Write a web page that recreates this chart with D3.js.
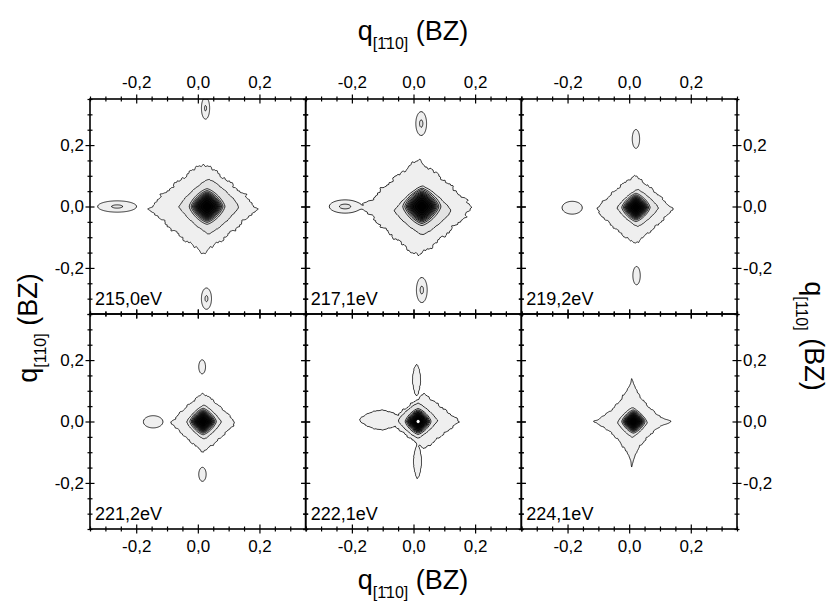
<!DOCTYPE html>
<html>
<head>
<meta charset="utf-8">
<script src="https://cdn.jsdelivr.net/npm/d3@7"></script>
<style>
  body { margin: 0; background: #fff; }
  svg { display: block; }
  text { font-family: "Liberation Sans", Arial, sans-serif; }
</style>
</head>
<body>
<svg id="chart" width="836" height="607"></svg>
<script>
// ---- data -------------------------------------------------------------
const energyLabels = ["215,0eV", "217,1eV", "219,2eV", "221,2eV", "222,1eV", "224,1eV"];
const qDomain = [-0.35, 0.35];
const majorTicks = [-0.2, 0, 0.2];
const majorTickLabels = ["-0,2", "0,0", "0,2"];
const minorTicks = [-0.35, -0.3, -0.25, -0.15, -0.1, -0.05, 0.05, 0.1, 0.15, 0.25, 0.3, 0.35];
const titleQx = ["q", "[1\u030410]", " (BZ)"];
const titleQy = ["q", "[110]", " (BZ)"];

// Intensity contour levels and their fills
const contourLevels = [1, 3, 5, 6.5, 8.5, 11, 14, 18, 23, 30, 40, 55, 75, 95];
const levelFills = ["#efefef", "#e3e3e3", "#cfcfcf", "#b4b4b4", "#979797", "#7a7a7a",
                    "#5c5c5c", "#404040", "#2a2a2a", "#1a1a1a", "#0e0e0e", "#050505", "#000000", "#ffffff"];

// Diffuse halo (outer level), union of shapes: [qx, qy, halfX, halfY, exponent]
const haloShapes = [
  [[0.018, -0.005, 0.173, 0.145, 1.1]],
  [[0.015, -0.005, 0.175, 0.155, 1.1]],
  [[0.017, -0.010, 0.123, 0.110, 1.1]],
  [[0.018, -0.003, 0.103, 0.095, 1.1]],
  [[0.035, 0.000, 0.115, 0.090, 1.0], [-0.105, 0.005, 0.070, 0.032, 1.5],
   [0.010, 0.135, 0.013, 0.052, 1.6], [0.013, -0.130, 0.013, 0.055, 1.6]],
  [[0.008, 0.000, 0.133, 0.145, 0.7]]
];
const haloRoughness = [0.07, 0.07, 0.06, 0.06, 0.07, 0.06];

// Second level: [qx, qy, halfX, halfY, exponent]
const innerShapes = [
  [[0.036, 0.000, 0.097, 0.089, 1.2]],
  [[0.030, -0.014, 0.092, 0.078, 1.2]],
  [[0.028, -0.005, 0.067, 0.060, 1.2]],
  [[0.020, -0.002, 0.056, 0.055, 1.2]],
  [[0.014, 0.003, 0.064, 0.057, 1.2]],
  [[0.010, -0.003, 0.048, 0.048, 1.2]]
];

// Specular peak: [qx, qy, half width of third level, peak height]
const centralPeak = [
  [0.030, 0.000, 0.058, 88],
  [0.027, 0.000, 0.062, 88],
  [0.022, -0.003, 0.046, 88],
  [0.017, 0.000, 0.043, 88],
  [0.015, 0.000, 0.042, 100],
  [0.014, 0.000, 0.038, 88]
];

// Superstructure spots: [qx, qy, halfX, halfY, peak height]
const satelliteSpots = [
  [[-0.262, 0.000, 0.062, 0.018, 3.5], [0.025, 0.320, 0.013, 0.035, 3.4], [0.028, -0.300, 0.016, 0.034, 3.5]],
  [[-0.222, 0.000, 0.050, 0.021, 3.8], [0.025, 0.270, 0.017, 0.038, 3.6], [0.027, -0.272, 0.017, 0.040, 3.6]],
  [[-0.185, -0.004, 0.033, 0.021, 2.5], [0.022, 0.220, 0.012, 0.031, 2.5], [0.024, -0.225, 0.012, 0.030, 2.5]],
  [[-0.145, -0.001, 0.032, 0.020, 2.5], [0.014, 0.178, 0.011, 0.023, 2.5], [0.015, -0.172, 0.012, 0.023, 2.5]],
  [],
  []
];

// ---- intensity model ------------------------------------------------------
// serrated rim of the diffuse halo
function edgeRipple(t, k) {
  return 0.35 * Math.sin(13 * t + k) + 0.25 * Math.sin(29 * t + 2.1 * k)
       + 0.2 * Math.sin(47 * t + 0.7 * k) + 0.2 * Math.sin(83 * t + 1.3 * k);
}
function shapeNorm(qx, qy, s) {
  const dx = (qx - s[0]) / s[2], dy = (qy - s[1]) / s[3];
  return { n: Math.pow(Math.pow(Math.abs(dx), s[4]) + Math.pow(Math.abs(dy), s[4]), 1 / s[4]), t: Math.atan2(dy, dx) };
}
function plateau(shapes, qx, qy, rough, k) {
  let best = 0;
  shapes.forEach((s, si) => {
    const r = shapeNorm(qx, qy, s);
    const n = r.n * (1 + rough * edgeRipple(r.t, k + si * 1.7));
    best = Math.max(best, 1 / (1 + Math.exp((n - 1) / 0.035)));
  });
  return best;
}
function intensity(p, qx, qy) {
  let v = 2 * plateau(haloShapes[p], qx, qy, haloRoughness[p], p * 2.3);
  v += 2 * plateau(innerShapes[p], qx, qy, 0.025, p * 1.1 + 0.5);
  const c = centralPeak[p];
  const w = c[2] / Math.sqrt(Math.log(c[3]));
  const dx = Math.abs(qx - c[0]) / w, dy = Math.abs(qy - c[1]) / w;
  const nc = Math.pow(Math.pow(dx, 1.4) + Math.pow(dy, 1.4), 1 / 1.4);
  v += c[3] * Math.exp(-nc * nc);
  satelliteSpots[p].forEach(s => {
    const f = Math.sqrt(Math.log(s[4]));
    const ex = (qx - s[0]) / (s[2] / f), ey = (qy - s[1]) / (s[3] / f);
    v += s[4] * Math.exp(-Math.pow(ex * ex + ey * ey, 0.85));
  });
  return v;
}

// ---- layout -------------------------------------------------------------
const svg = d3.select("#chart");
const plotLeft = 90, plotTop = 99, plotRight = 737, plotBottom = 529;
const panelW = (plotRight - plotLeft) / 3, panelH = (plotBottom - plotTop) / 2;
const N = 216;
const gridToQx = d3.scaleLinear().domain([0, N]).range(qDomain);
const gridToQy = d3.scaleLinear().domain([0, N]).range([qDomain[1], qDomain[0]]);
const defs = svg.append("defs");

function addTicks(factory, scale, tx, ty, withLabels, key, pad) {
  const g = svg.append("g").attr("transform", `translate(${tx},${ty})`);
  g.call(factory(scale).tickValues(majorTicks).tickSize(4.5).tickPadding(pad)
    .tickFormat(withLabels ? (d, i) => majorTickLabels[i] : () => ""));
  g.append("g").call(factory(scale).tickValues(minorTicks).tickSize(2.5).tickFormat(() => ""));
  g.selectAll(".domain").remove();
  g.attr("font-family", "Liberation Sans, Arial, sans-serif").attr("font-size", 17);
  g.selectAll(".tick line").each(function () {
    const l = d3.select(this);
    l.attr(key + "1", -(+l.attr(key + "2")));
  }).attr("stroke", "#000").attr("stroke-width", 1.2);
  g.selectAll(".tick text").attr("fill", "#000");
}

energyLabels.forEach((label, p) => {
  const col = p % 3, row = Math.floor(p / 3);
  const x0 = plotLeft + col * panelW, y0 = plotTop + row * panelH;
  const xs = d3.scaleLinear().domain(qDomain).range([x0, x0 + panelW]);
  const ys = d3.scaleLinear().domain(qDomain).range([y0 + panelH, y0]);

  const values = new Float64Array(N * N);
  for (let j = 0; j < N; j++) {
    const qy = gridToQy(j + 0.5);
    for (let i = 0; i < N; i++) values[j * N + i] = intensity(p, gridToQx(i + 0.5), qy);
  }
  const contours = d3.contours().size([N, N]).thresholds(contourLevels)(values);
  const path = d3.geoPath(d3.geoTransform({
    point(x, y) { this.stream.point(xs(gridToQx(x)), ys(gridToQy(y))); }
  }));

  defs.append("clipPath").attr("id", "clip" + p)
    .append("rect").attr("x", x0).attr("y", y0).attr("width", panelW).attr("height", panelH);

  svg.append("g").attr("clip-path", `url(#clip${p})`)
    .selectAll("path").data(contours).join("path")
    .attr("d", path)
    .attr("fill", (d, i) => levelFills[i])
    .attr("stroke", (d, i) => i === contourLevels.length - 1 ? "none" : "#000")
    .attr("stroke-width", 0.8)
    .attr("stroke-linejoin", "round");

  svg.append("text").attr("x", x0 + 5).attr("y", y0 + panelH - 9)
    .attr("font-size", 18).attr("fill", "#000").text(label);

  svg.append("rect").attr("x", x0).attr("y", y0).attr("width", panelW).attr("height", panelH)
    .attr("fill", "none").attr("stroke", "#000").attr("stroke-width", 1.6);

  addTicks(d3.axisTop, xs, 0, y0, row === 0, "y", 6.5);
  addTicks(d3.axisBottom, xs, 0, y0 + panelH, row === 1, "y", 6.5);
  addTicks(d3.axisLeft, ys, x0, 0, col === 0, "x", 1.5);
  addTicks(d3.axisRight, ys, x0 + panelW, 0, col === 2, "x", 1.5);
});

// ---- axis titles ------------------------------------------------------------
function axisTitle(parts, transform) {
  const t = svg.append("text").attr("transform", transform)
    .attr("text-anchor", "middle").attr("font-size", 27).attr("fill", "#000");
  t.append("tspan").text(parts[0]);
  t.append("tspan").attr("dy", 9).attr("font-size", 16).text(parts[1]);
  t.append("tspan").attr("dy", -9).text(parts[2]);
}
axisTitle(titleQx, "translate(413,40)");
axisTitle(titleQx, "translate(413,589)");
axisTitle(titleQy, "translate(37,328) rotate(-90)");
axisTitle(titleQy, "translate(805,336) rotate(90)");
</script>
</body>
</html>
